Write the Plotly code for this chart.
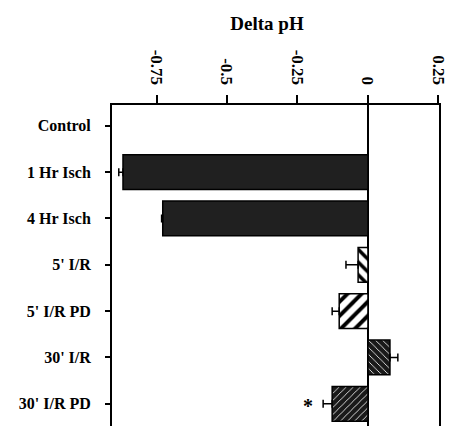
import plotly.graph_objects as go

categories = ["Control", "1 Hr Isch", "4 Hr Isch", "5' I/R", "5' I/R PD", "30' I/R", "30' I/R PD"]
delta_ph = [None, -0.869, -0.728, -0.035, -0.102, 0.078, -0.127]
err_plus = [0, 0, 0, 0, 0, 0.028, 0]
err_minus = [0, 0.015, 0.004, 0.043, 0.025, 0, 0.032]
x_ticks = [-0.75, -0.5, -0.25, 0, 0.25]
x_tick_labels = ["-0.75", "-0.5", "-0.25", "0", "0.25"]

pattern_shapes = ["", "", "", "\\", "/", "\\", "/"]
fg_colors = ["black", "black", "black", "black", "black", "white", "white"]
bg_colors = ["#202020", "#202020", "#202020", "white", "white", "#1a1a1a", "#1a1a1a"]
pattern_sizes = [8, 8, 8, 9, 10, 5, 5]
pattern_solidity = [0.3, 0.3, 0.3, 0.4, 0.4, 0.16, 0.16]

font_family = "Liberation Serif"

fig = go.Figure()
for i, cat in enumerate(categories):
    if delta_ph[i] is None:
        continue
    pattern = None
    if pattern_shapes[i]:
        pattern = dict(
            shape=pattern_shapes[i],
            fgcolor=fg_colors[i],
            bgcolor=bg_colors[i],
            size=pattern_sizes[i],
            solidity=pattern_solidity[i],
            fillmode="replace",
        )
    fig.add_trace(go.Bar(
        y=[cat],
        x=[delta_ph[i]],
        orientation="h",
        width=0.75,
        marker=dict(
            color=bg_colors[i],
            line=dict(color="black", width=1.5),
            pattern=pattern,
        ),
        error_x=dict(
            type="data",
            symmetric=False,
            array=[err_plus[i]],
            arrayminus=[err_minus[i]],
            color="black",
            thickness=1.5,
            width=4,
        ),
        showlegend=False,
    ))

fig.add_annotation(
    x=-0.213, y="30' I/R PD", text="<b>*</b>", showarrow=False,
    font=dict(family=font_family, size=20, color="black"), yshift=-2,
)

fig.update_layout(
    width=450, height=426,
    margin=dict(l=112, r=11, t=105, b=0, autoexpand=False),
    paper_bgcolor="white", plot_bgcolor="white",
    font=dict(family=font_family, color="black"),
    title=dict(
        text="<b>Delta pH</b>", x=267 / 450, xanchor="center",
        y=1 - 23 / 426, yanchor="middle",
        font=dict(family=font_family, size=19, color="black"),
    ),
    barmode="overlay",
)

fig.update_xaxes(
    side="top",
    range=[-0.908, 0.252],
    tickvals=x_ticks,
    ticktext=["<b>" + t + "</b>" for t in x_tick_labels],
    tickangle=90,
    tickfont=dict(family=font_family, size=17, color="black"),
    ticks="outside", ticklen=8, tickwidth=1.5, tickcolor="black",
    ticklabelstandoff=4,
    automargin=False,
    showline=True, linecolor="black", linewidth=2, mirror=False,
    showgrid=False,
    zeroline=True, zerolinecolor="black", zerolinewidth=1.5,
)

fig.update_yaxes(
    type="category",
    categoryorder="array", categoryarray=categories,
    range=[6.48, -0.45],
    tickvals=categories,
    ticktext=["<b>" + c + "</b>" for c in categories],
    tickfont=dict(family=font_family, size=16, color="black"),
    ticks="outside", ticklen=5, tickwidth=1.5, tickcolor="black",
    ticklabelstandoff=11,
    automargin=False,
    showline=True, linecolor="black", linewidth=2, mirror=True,
    showgrid=False, zeroline=False,
)

fig.write_html(
    "out.html",
    config={"displayModeBar": False},
    post_script="document.body.style.margin='0px';document.body.style.overflow='hidden';",
)
